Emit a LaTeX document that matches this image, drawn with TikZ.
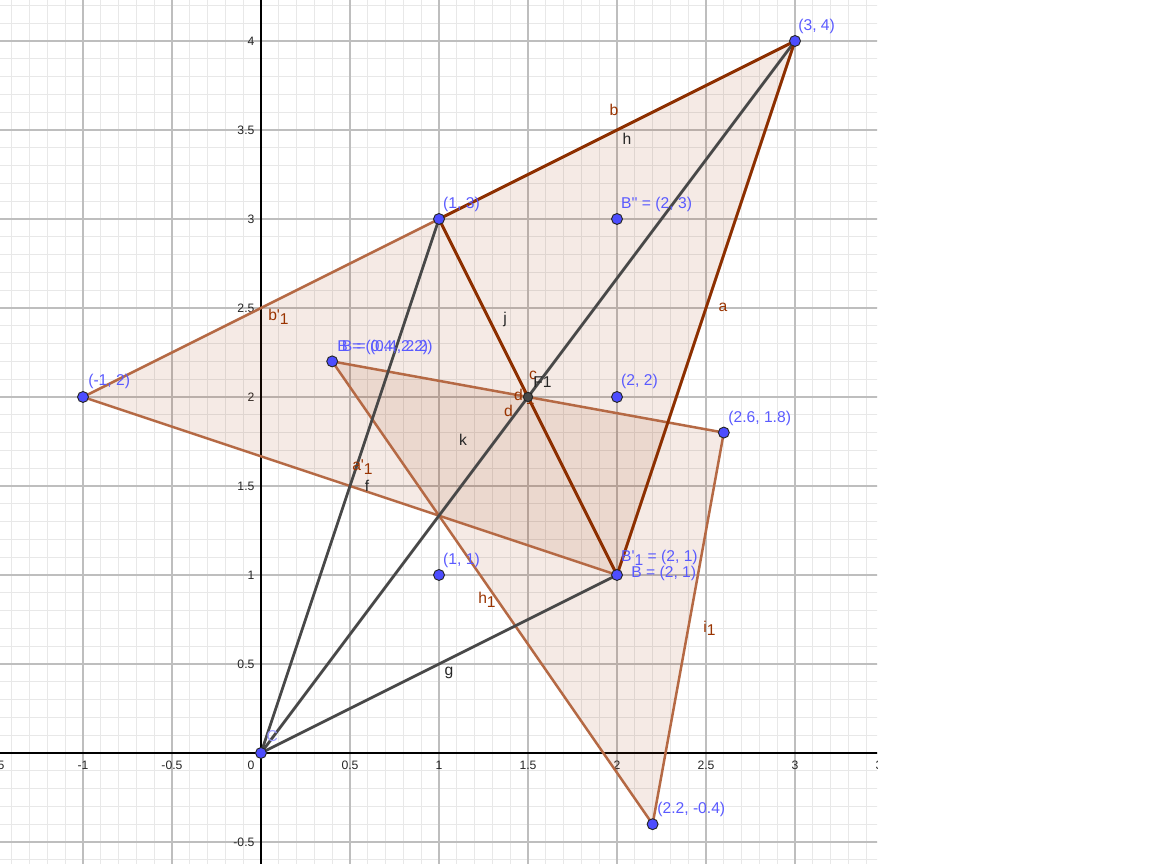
\documentclass[tikz,border=0pt]{standalone}
\usepackage{fontspec}
\setmainfont{Liberation Sans}
\usetikzlibrary{positioning}

\definecolor{geobrown}{RGB}{153,51,0}
\definecolor{edgebrown}{RGB}{181,105,68}
\definecolor{darkseg}{RGB}{72,72,72}
\definecolor{ptblue}{RGB}{77,77,255}
\definecolor{lblblue}{RGB}{90,90,255}
\definecolor{majgrid}{RGB}{190,190,190}
\definecolor{mingrid}{RGB}{232,232,232}

\newcommand{\lowidx}[1]{\raisebox{-0.45ex}{#1}}

\begin{document}
\begin{tikzpicture}[x=4cm, y=4cm,
    gpt/.style={circle, draw=black!85, line width=0.6pt, fill=ptblue, minimum size=7pt, inner sep=0pt},
    fpt/.style={circle, draw=black!85, line width=0.6pt, fill=darkseg, minimum size=6pt, inner sep=0pt},
    ptlbl/.style={text=lblblue, font=\fontsize{10}{12}\selectfont, anchor=west, inner sep=0pt},
    seglbl/.style={text=geobrown, font=\fontsize{10}{12}\selectfont, inner sep=0pt},
    blklbl/.style={text=black!85, font=\fontsize{10}{12}\selectfont, inner sep=0pt},
    ticklbl/.style={text=black!85, font=\fontsize{7.8}{9}\selectfont, inner sep=0pt},
    tri/.style={fill=geobrown, fill opacity=0.1},
    mainedge/.style={draw=geobrown!92!black, line width=1.9pt},
    sideedge/.style={draw=edgebrown, line width=1.6pt},
    blackseg/.style={draw=darkseg, line width=1.8pt}]
    \useasboundingbox (-1.4663,-0.6236) rectangle (5.0056,4.2303);

    % points
    \coordinate (O) at (0,0);
    \coordinate (A) at (1,3);
    \coordinate (T) at (3,4);
    \coordinate (B) at (2,1);
    \coordinate (L) at (-1,2);
    \coordinate (Q) at (0.4,2.2);
    \coordinate (R) at (2.6,1.8);
    \coordinate (S) at (2.2,-0.4);
    \coordinate (Bpp) at (2,3);
    \coordinate (M) at (2,2);
    \coordinate (U) at (1,1);
    \coordinate (F) at (1.5,2);

    \begin{scope}
        \clip (-1.4663,-0.6236) rectangle (3.4607,4.2303);
        % grid and axes
        \draw[mingrid, line width=0.6pt] (-1.5,-0.7) grid[step=0.1] (3.5,4.3);
        \draw[majgrid, line width=0.7pt] (-1.5,-0.7) grid[step=0.5] (3.5,4.3);
        \draw[black, line width=0.8pt] (-1.5,0) -- (3.5,0);
        \draw[black, line width=0.8pt] (0,-0.7) -- (0,4.3);
        \foreach \t/\s in {-1.5/-1.5,-1/-1,-0.5/-0.5,0.5/0.5,1/1,1.5/1.5,2/2,2.5/2.5,3/3,3.5/3.5}
            \node[ticklbl, anchor=north] at (\t,-0.045) {\s};
        \node[ticklbl, anchor=north east] at (-0.035,-0.045) {0};
        \foreach \t in {-0.5,0.5,1,1.5,2,2.5,3,3.5,4}
            \node[ticklbl, anchor=east] at (-0.035,\t) {\t};

        % triangles
        \fill[tri] (A) -- (T) -- (B) -- cycle;
        \fill[tri] (L) -- (A) -- (B) -- cycle;
        \fill[tri] (Q) -- (R) -- (S) -- cycle;
        \draw[sideedge] (L) -- (A);
        \draw[sideedge] (L) -- (B);
        \draw[sideedge] (Q) -- (R);
        \draw[sideedge] (Q) -- (S);
        \draw[sideedge] (R) -- (S);

        % segments from the origin
        \draw[blackseg] (O) -- (A);
        \draw[blackseg] (O) -- (T);
        \draw[blackseg] (O) -- (B);

        \draw[mainedge] (A) -- (T);
        \draw[mainedge] (T) -- (B);
        \draw[mainedge] (A) -- (B);
    \end{scope}

    % segment labels
    \node[seglbl] (lb) at (1.983,3.612) {b};
    \node[blklbl] (lh) at (2.056,3.449) {h};
    \node[seglbl] (la) at (2.596,2.506) {a};
    \node[seglbl, anchor=west] (lbp) at (0.039,2.45) {b\textquotesingle\lowidx{1}};
    \node[blklbl] (lj) at (1.371,2.433) {j};
    \node[blklbl] (lk) at (1.135,1.758) {k};
    \node[seglbl, anchor=west] (lap) at (0.511,1.607) {a\textquotesingle\lowidx{1}};
    \node[blklbl] (lf) at (0.596,1.5) {f};
    \node[seglbl, anchor=west] (lh1) at (1.219,0.86) {h\lowidx{1}};
    \node[seglbl, anchor=west] (li1) at (2.483,0.70) {i\lowidx{1}};
    \node[blklbl] (lg) at (1.056,0.449) {g};
    \node[seglbl] (lc) at (1.528,2.12) {c};
    \node[seglbl, anchor=west] (ldp) at (1.42,2.0) {d\textquotesingle\lowidx{1}};
    \node[seglbl] (ld) at (1.39,1.921) {d};

    % point markers
    \node[gpt] (nT) at (T) {};
    \node[gpt] (nA) at (A) {};
    \node[gpt] (nBpp) at (Bpp) {};
    \node[gpt] (nQ) at (Q) {};
    \node[gpt] (nL) at (L) {};
    \node[gpt] (nM) at (M) {};
    \node[gpt] (nR) at (R) {};
    \node[gpt] (nU) at (U) {};
    \node[gpt] (nB) at (B) {};
    \node[gpt] (nS) at (S) {};
    \node[gpt] (nO) at (O) {};
    \node[fpt] (nF) at (F) {};

    % point labels
    \node[ptlbl] (tT) at (3.017,4.079) {(3, 4)};
    \node[ptlbl] (tA) at (1.022,3.084) {(1, 3)};
    \node[ptlbl] (tBpp) at (2.022,3.084) {B\textquotesingle\textquotesingle{} = (2, 3)};
    \node[ptlbl] (tQ) at (0.427,2.281) {B = (0.4, 2.2)};
    \node[ptlbl] (tQb) at (0.452,2.281) {B = (0.4, 2.2)};
    \node[ptlbl] (tL) at (-0.972,2.09) {(-1, 2)};
    \node[ptlbl] (tM) at (2.022,2.09) {(2, 2)};
    \node[ptlbl] (tR) at (2.624,1.882) {(2.6, 1.8)};
    \node[ptlbl] (tU) at (1.022,1.084) {(1, 1)};
    \node[ptlbl] (tBp) at (2.022,1.096) {B\textquotesingle\lowidx{1} = (2, 1)};
    \node[ptlbl] (tB) at (2.079,1.006) {B = (2, 1)};
    \node[ptlbl] (tS) at (2.225,-0.315) {(2.2, -0.4)};
    \node[ptlbl, text=lblblue!60] (tO) at (0.03,0.095) {C};
    \node[blklbl, anchor=west] (tF) at (1.528,2.084) {F1};
\end{tikzpicture}
\end{document}
